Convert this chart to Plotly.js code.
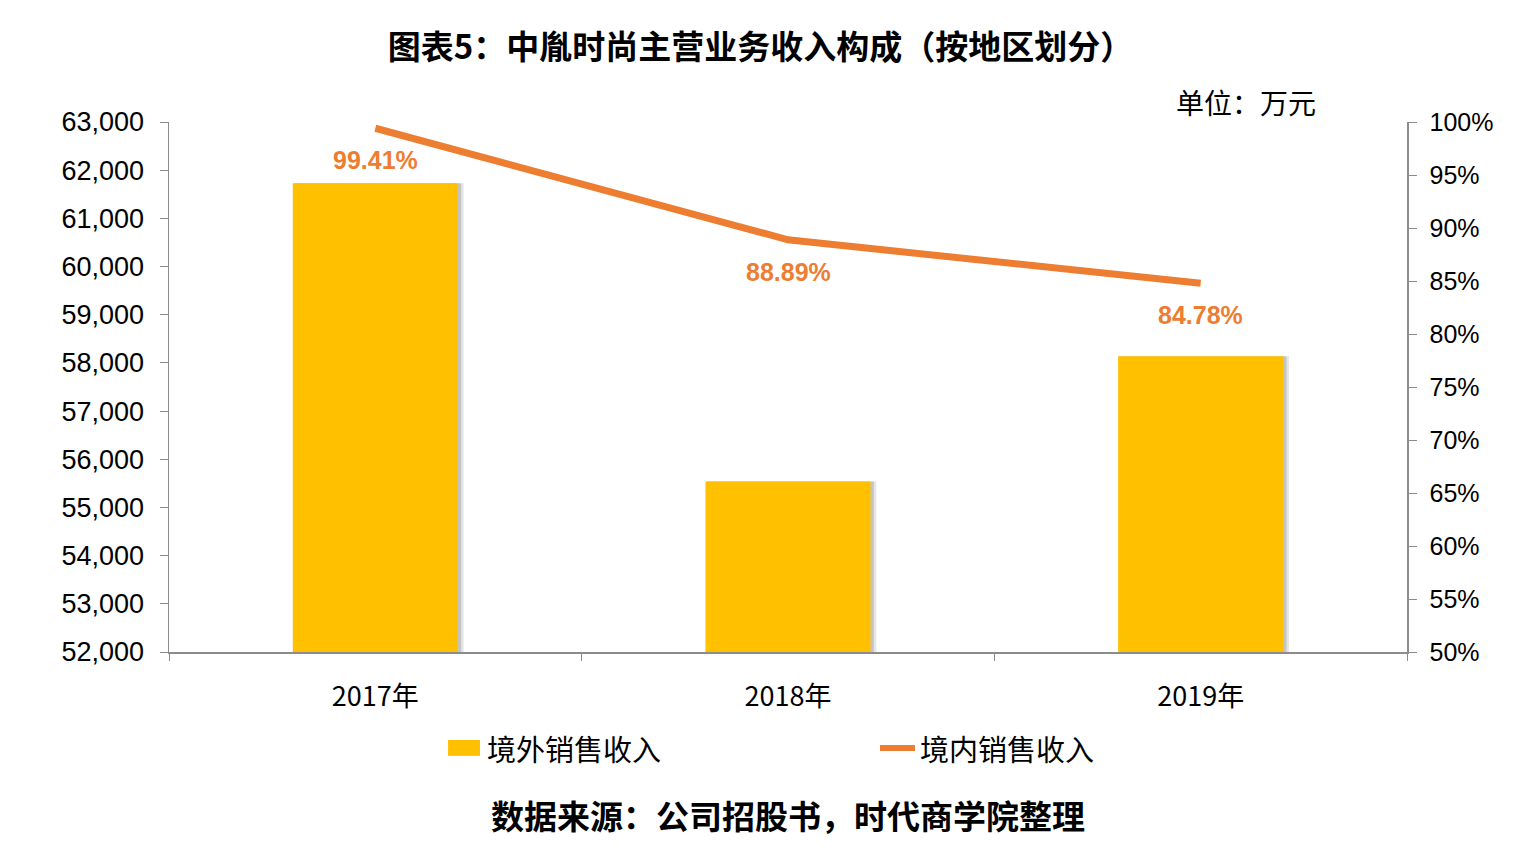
<!DOCTYPE html>
<html>
<head>
<meta charset="utf-8">
<script src="https://cdn.plot.ly/plotly-3.0.1.min.js"></script>
<style>html,body{margin:0;padding:0;background:#fff;}#chart{width:1521px;height:850px;}</style>
</head>
<body>
<div id="chart"></div>
<script>
const categories = ['2017年', '2018年', '2019年'];
const overseasRevenue = [61730, 55540, 58140];
const domesticShare = [99.41, 88.89, 84.78];
const domesticLabels = ['99.41%', '88.89%', '84.78%'];
const leftTicks = [52000, 53000, 54000, 55000, 56000, 57000, 58000, 59000, 60000, 61000, 62000, 63000];
const rightTicks = [50, 55, 60, 65, 70, 75, 80, 85, 90, 95, 100];
const rightTickText = ['50%', '55%', '60%', '65%', '70%', '75%', '80%', '85%', '90%', '95%', '100%'];
const seriesNames = ['境外销售收入', '境内销售收入'];

const FONT = '"Liberation Sans", Arial, "Noto Sans CJK SC", sans-serif';
const CJK = '"Noto Sans CJK SC", "Liberation Sans", sans-serif';
const BAR = '#FFC000', LINE = '#ED7D31';

const traces = [
  {
    type: 'bar', x: categories, y: overseasRevenue, width: 0.41, offset: -0.196,
    marker: {color: 'rgba(0,0,0,0.10)'}, showlegend: false, hoverinfo: 'skip'
  },
  {
    type: 'bar', x: categories, y: overseasRevenue, width: 0.406, offset: -0.198,
    marker: {color: 'rgba(0,0,0,0.14)'}, showlegend: false, hoverinfo: 'skip'
  },
  {
    type: 'bar', name: seriesNames[0], x: categories, y: overseasRevenue, width: 0.4,
    marker: {color: BAR}
  },
  {
    type: 'scatter', mode: 'lines', name: seriesNames[1], x: categories, y: domesticShare,
    yaxis: 'y2', line: {color: LINE, width: 7}
  }
];

const labelAnnotations = categories.map((c, i) => ({
  x: c, y: domesticShare[i], xref: 'x', yref: 'y2', yshift: -32,
  text: '<b>' + domesticLabels[i] + '</b>', showarrow: false,
  xanchor: 'center', yanchor: 'middle',
  font: {family: FONT, size: 25, color: LINE}
}));

const layout = {
  width: 1521, height: 850,
  margin: {l: 169, r: 114, t: 122, b: 198},
  paper_bgcolor: '#fff', plot_bgcolor: '#fff',
  barmode: 'overlay', showlegend: false,
  font: {family: FONT, color: '#000', size: 26},
  title: {
    text: '<b>图表5：中胤时尚主营业务收入构成（按地区划分）</b>',
    font: {family: CJK, size: 33, color: '#000'},
    x: 0.5, xanchor: 'center', y: 0.9447, yanchor: 'middle'
  },
  xaxis: {
    type: 'category', range: [-0.5, 2.5],
    showline: true, linecolor: '#8c8c8c', linewidth: 1.5,
    ticks: 'outside', tickson: 'boundaries', ticklen: 7, tickcolor: '#8c8c8c',
    ticklabelstandoff: 20,
    tickfont: {family: CJK, size: 27}, showgrid: false, zeroline: false
  },
  yaxis: {
    range: [52000, 63000], tickvals: leftTicks, tickformat: ',d',
    showline: true, linecolor: '#8c8c8c', linewidth: 1.5,
    ticks: 'outside', ticklen: 8, tickcolor: '#8c8c8c',
    ticklabelstandoff: 10,
    tickfont: {size: 27}, showgrid: false, zeroline: false
  },
  yaxis2: {
    overlaying: 'y', side: 'right', range: [50, 100], tickvals: rightTicks, ticktext: rightTickText,
    showline: true, linecolor: '#8c8c8c', linewidth: 1.5,
    ticks: 'outside', ticklen: 8, tickcolor: '#8c8c8c',
    ticklabelstandoff: 8,
    tickfont: {size: 25}, showgrid: false, zeroline: false
  },
  shapes: [
    {type: 'rect', xref: 'paper', yref: 'paper', x0: 0.2254, x1: 0.2512, y0: -0.196, y1: -0.166,
     fillcolor: BAR, line: {width: 0}},
    {type: 'line', xref: 'paper', yref: 'paper', x0: 0.5743, x1: 0.6026, y0: -0.181, y1: -0.181,
     line: {color: LINE, width: 6}}
  ],
  annotations: labelAnnotations.concat([
    {text: seriesNames[0], xref: 'paper', yref: 'paper', x: 0.2553, y: -0.181,
     xanchor: 'left', yanchor: 'middle', showarrow: false, font: {family: CJK, size: 29}},
    {text: seriesNames[1], xref: 'paper', yref: 'paper', x: 0.605, y: -0.181,
     xanchor: 'left', yanchor: 'middle', showarrow: false, font: {family: CJK, size: 29}},
    {
      text: '单位：万元', xref: 'paper', yref: 'paper', x: 0.928, y: 1.0377,
      xanchor: 'right', yanchor: 'middle', showarrow: false,
      font: {family: CJK, size: 28}
    },
    {
      text: '<b>数据来源：公司招股书，时代商学院整理</b>', xref: 'paper', yref: 'paper',
      x: 0.5, y: -0.3075, xanchor: 'center', yanchor: 'middle', showarrow: false,
      font: {family: CJK, size: 33}
    }
  ])
};

Plotly.newPlot('chart', traces, layout, {displayModeBar: false, staticPlot: true});
</script>
</body>
</html>
